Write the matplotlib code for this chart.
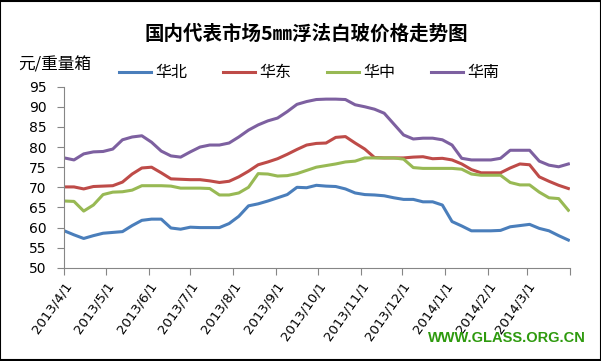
import datetime
import matplotlib.pyplot as plt
import matplotlib.transforms as mtransforms

plt.rcParams['font.family'] = ['Noto Sans CJK SC', 'DejaVu Sans']

# 周数据（从2013/4/1起，每7天一个点）
start = datetime.date(2013, 4, 1)
dates = [start + datetime.timedelta(days=7 * i) for i in range(53)]

north = [59.2, 58.2, 57.3, 58.0, 58.6, 58.8, 59.0, 60.5, 61.8, 62.1,
         62.1, 59.9, 59.6, 60.1, 60.0, 60.0, 60.0, 61.0, 62.8, 65.4,
         65.9, 66.6, 67.4, 68.2, 70.0, 69.9, 70.5, 70.3, 70.2, 69.6,
         68.6, 68.2, 68.1, 67.9, 67.4, 67.0, 67.0, 66.4, 66.4, 65.6,
         61.5, 60.4, 59.2, 59.2, 59.2, 59.3, 60.2, 60.5, 60.8, 59.8,
         59.2, 58.0, 56.9]
east = [70.1, 70.1, 69.6, 70.2, 70.3, 70.4, 71.3, 73.3, 74.8, 75.0,
        73.6, 72.1, 72.0, 71.9, 71.9, 71.6, 71.2, 71.5, 72.6, 74.0,
        75.6, 76.3, 77.1, 78.2, 79.4, 80.5, 80.9, 81.0, 82.4, 82.6,
        81.0, 79.5, 77.4, 77.3, 77.3, 77.3, 77.5, 77.6, 77.1, 77.2,
        76.8, 75.8, 74.4, 73.6, 73.6, 73.6, 74.8, 75.8, 75.6, 72.6,
        71.5, 70.5, 69.7]
central = [66.6, 66.5, 64.1, 65.6, 68.2, 68.8, 68.9, 69.3, 70.4, 70.4,
           70.4, 70.3, 69.8, 69.8, 69.8, 69.7, 68.1, 68.1, 68.6, 70.0,
           73.4, 73.3, 72.8, 72.9, 73.4, 74.2, 75.0, 75.4, 75.8, 76.3,
           76.5, 77.3, 77.3, 77.3, 77.3, 77.0, 74.9, 74.7, 74.7, 74.7,
           74.7, 74.5, 73.3, 73.0, 73.0, 73.0, 71.2, 70.6, 70.6, 68.8,
           67.4, 67.2, 64.3]
south = [77.3, 76.8, 78.3, 78.8, 78.9, 79.5, 81.8, 82.5, 82.8, 81.2,
         79.0, 77.8, 77.5, 78.8, 80.0, 80.5, 80.5, 81.0, 82.5, 84.2,
         85.5, 86.5, 87.2, 88.8, 90.6, 91.3, 91.8, 91.9, 91.9, 91.8,
         90.5, 90.0, 89.4, 88.4, 85.7, 83.0, 82.0, 82.2, 82.2, 81.8,
         80.5, 77.2, 76.8, 76.8, 76.8, 77.2, 79.2, 79.2, 79.2, 76.5,
         75.5, 75.1, 75.8]

names = ["华北", "华东", "华中", "华南"]
colors = ["#4A7EBB", "#BE4B48", "#98B954", "#7D60A0"]
series = [north, east, central, south]

month_ticks = [datetime.date(2013 + (3 + i) // 12, (3 + i) % 12 + 1, 1) for i in range(13)]
month_labels = [f"{d.year}/{d.month}/1" for d in month_ticks[:-1]] + [""]

fig = plt.figure(figsize=(6.01, 3.61), dpi=100)
ax = fig.add_axes([0.107, 0.258, 0.841, 0.502])

for vals, name, c in zip(series, names, colors):
    ax.plot(dates, vals, color=c, lw=2.2, label=name, solid_joinstyle='round')

ax.set_ylim(50, 95)
ax.set_yticks(range(50, 96, 5))
ax.set_xlim(month_ticks[0], month_ticks[-1])
ax.set_xticks(month_ticks)
ax.set_xticklabels(month_labels, rotation=55, ha='right', rotation_mode='anchor',
                   family='DejaVu Sans', fontsize=9.5)
shift = mtransforms.ScaledTranslation(5 / 100, -5 / 100, fig.dpi_scale_trans)
for lab in ax.get_xticklabels():
    lab.set_transform(lab.get_transform() + shift)
for lab in ax.get_yticklabels():
    lab.set_family('DejaVu Sans')
    lab.set_fontsize(10)

for s in ['top', 'right']:
    ax.spines[s].set_visible(False)
for s in ['left', 'bottom']:
    ax.spines[s].set_color('#868686')
ax.tick_params(colors='#868686', length=5, width=0.8, labelcolor='black')
ax.tick_params(axis='y', pad=8)

fig.text(0.51, 0.906, "国内代表市场5㎜浮法白玻价格走势图", ha='center', va='center',
         fontsize=14, fontweight='bold')
fig.text(0.03, 0.82, "元/重量箱", ha='left', va='center', fontsize=12)

fig.legend(loc='center left', bbox_to_anchor=(0.198, 0.798), ncol=4, frameon=False,
           fontsize=11.5, handlelength=2.0, columnspacing=2.2, handletextpad=0.3,
           borderaxespad=0, borderpad=0)

fig.text(0.974, 0.064, "WWW.GLASS.ORG.CN", ha='right', va='center', color='#2E9A0E',
         fontsize=10.5, fontweight='bold', family='Liberation Sans')

fig.patches.append(plt.Rectangle((0.0008, 0.0014), 0.9984, 0.9972, transform=fig.transFigure,
                                 fill=False, edgecolor='black', lw=1.5))

fig.savefig("out.png", dpi=100)
